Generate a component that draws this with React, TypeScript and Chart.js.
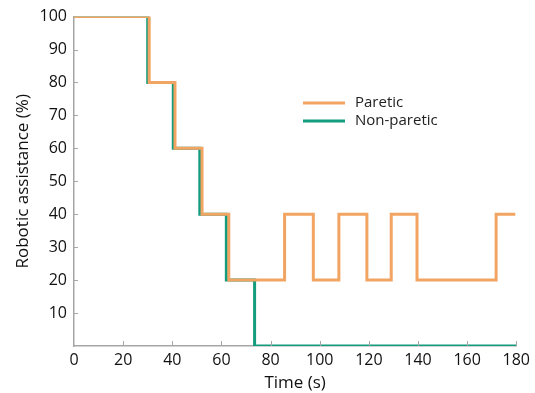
import React, { useEffect, useRef } from "react";
import { Chart, registerables } from "chart.js";

Chart.register(...registerables);

const seriesNames = ["Paretic", "Non-paretic"];
const seriesColors = ["#F2A462", "#149C7E"];

// step change times (s) and the level (%) that begins there
const pareticTimes = [0, 30.6, 41.1, 52.1, 63.0, 85.7, 97.4, 107.8, 119.2, 129.1, 139.6, 171.8, 179.6];
const pareticLevels = [100, 80, 60, 40, 20, 40, 20, 40, 20, 40, 20, 40, 40];
const nonPareticTimes = [0, 30.0, 40.4, 51.2, 62.0, 73.5, 180];
const nonPareticLevels = [100, 80, 60, 40, 20, 0, 0];

const xTicks = [0, 20, 40, 60, 80, 100, 120, 140, 160, 180];
const yTicks = [10, 20, 30, 40, 50, 60, 70, 80, 90, 100];

const FONT = "'Open Sans', 'Noto Sans', sans-serif";
const AXIS_GRAY = "#a6a6a6";

const insideTicks = {
  id: "insideTicks",
  afterDraw(chart: any) {
    const { ctx, chartArea, scales } = chart;
    ctx.save();
    ctx.strokeStyle = AXIS_GRAY;
    ctx.lineWidth = 1;
    yTicks.forEach((v) => {
      if (v >= 100) return;
      const y = Math.round(scales.y.getPixelForValue(v)) + 0.5;
      ctx.beginPath();
      ctx.moveTo(chartArea.left, y);
      ctx.lineTo(chartArea.left + 4, y);
      ctx.stroke();
    });
    xTicks.forEach((v) => {
      if (v === 0) return;
      const x = Math.round(scales.x.getPixelForValue(v)) + 0.5;
      ctx.beginPath();
      ctx.moveTo(x, chartArea.bottom);
      ctx.lineTo(x, chartArea.bottom - 5);
      ctx.stroke();
    });
    ctx.restore();
  },
};

const insideLegend = {
  id: "insideLegend",
  afterDraw(chart: any) {
    const { ctx } = chart;
    ctx.save();
    ctx.font = `15px ${FONT}`;
    ctx.textBaseline = "middle";
    ctx.fillStyle = "#222";
    seriesNames.forEach((name, i) => {
      const y = 103 + i * 18;
      ctx.strokeStyle = seriesColors[i];
      ctx.lineWidth = 3;
      ctx.beginPath();
      ctx.moveTo(303, y);
      ctx.lineTo(345, y);
      ctx.stroke();
      ctx.fillText(name, 355, y);
    });
    ctx.restore();
  },
};

export default function App() {
  const ref = useRef<HTMLCanvasElement | null>(null);

  useEffect(() => {
    if (!ref.current) return;
    const chart = new Chart(ref.current, {
      type: "line",
      data: {
        datasets: [
          {
            label: seriesNames[0],
            data: pareticTimes.map((t, i) => ({ x: t, y: pareticLevels[i] })),
            borderColor: seriesColors[0],
            borderWidth: 3,
            pointRadius: 0,
            stepped: "before",
            fill: false,
            order: 0,
          },
          {
            label: seriesNames[1],
            data: nonPareticTimes.map((t, i) => ({ x: t, y: nonPareticLevels[i] })),
            borderColor: seriesColors[1],
            borderWidth: 3,
            pointRadius: 0,
            stepped: "before",
            fill: false,
            order: 1,
          },
        ],
      },
      options: {
        animation: false,
        responsive: false,
        maintainAspectRatio: false,
        layout: { padding: { top: 15, right: 18, bottom: 0, left: 0 } },
        plugins: {
          legend: { display: false },
          tooltip: { enabled: false },
        },
        scales: {
          x: {
            type: "linear",
            min: 0,
            max: 180,
            afterFit: (s: any) => {
              s.height = 47;
            },
            afterBuildTicks: (s: any) => {
              s.ticks = xTicks.map((v) => ({ value: v }));
            },
            grid: { display: true, drawOnChartArea: false, drawTicks: false },
            border: { display: true, color: AXIS_GRAY, width: 1.5 },
            ticks: {
              padding: 5,
              color: "#111",
              font: { family: FONT, size: 16 },
              maxRotation: 0,
            },
            title: {
              display: true,
              text: "Time (s)",
              color: "#111",
              font: { family: FONT, size: 17 },
              padding: { top: 2, bottom: 0 },
            },
          },
          y: {
            min: 0,
            max: 100,
            afterFit: (s: any) => {
              s.width = 74;
            },
            afterBuildTicks: (s: any) => {
              s.ticks = yTicks.map((v) => ({ value: v }));
            },
            grid: { display: true, drawOnChartArea: false, drawTicks: false },
            border: { display: true, color: AXIS_GRAY, width: 1.5 },
            ticks: {
              padding: 7,
              color: "#111",
              font: { family: FONT, size: 16 },
            },
            title: {
              display: true,
              text: "Robotic assistance (%)",
              color: "#111",
              font: { family: FONT, size: 17 },
              padding: { top: 13, bottom: 0 },
            },
          },
        },
      },
      plugins: [insideTicks, insideLegend],
    });
    return () => chart.destroy();
  }, []);

  return (
    <div style={{ position: "fixed", left: 0, top: 0, width: 535, height: 393, background: "#fff" }}>
      <canvas ref={ref} width={535} height={393} />
    </div>
  );
}
